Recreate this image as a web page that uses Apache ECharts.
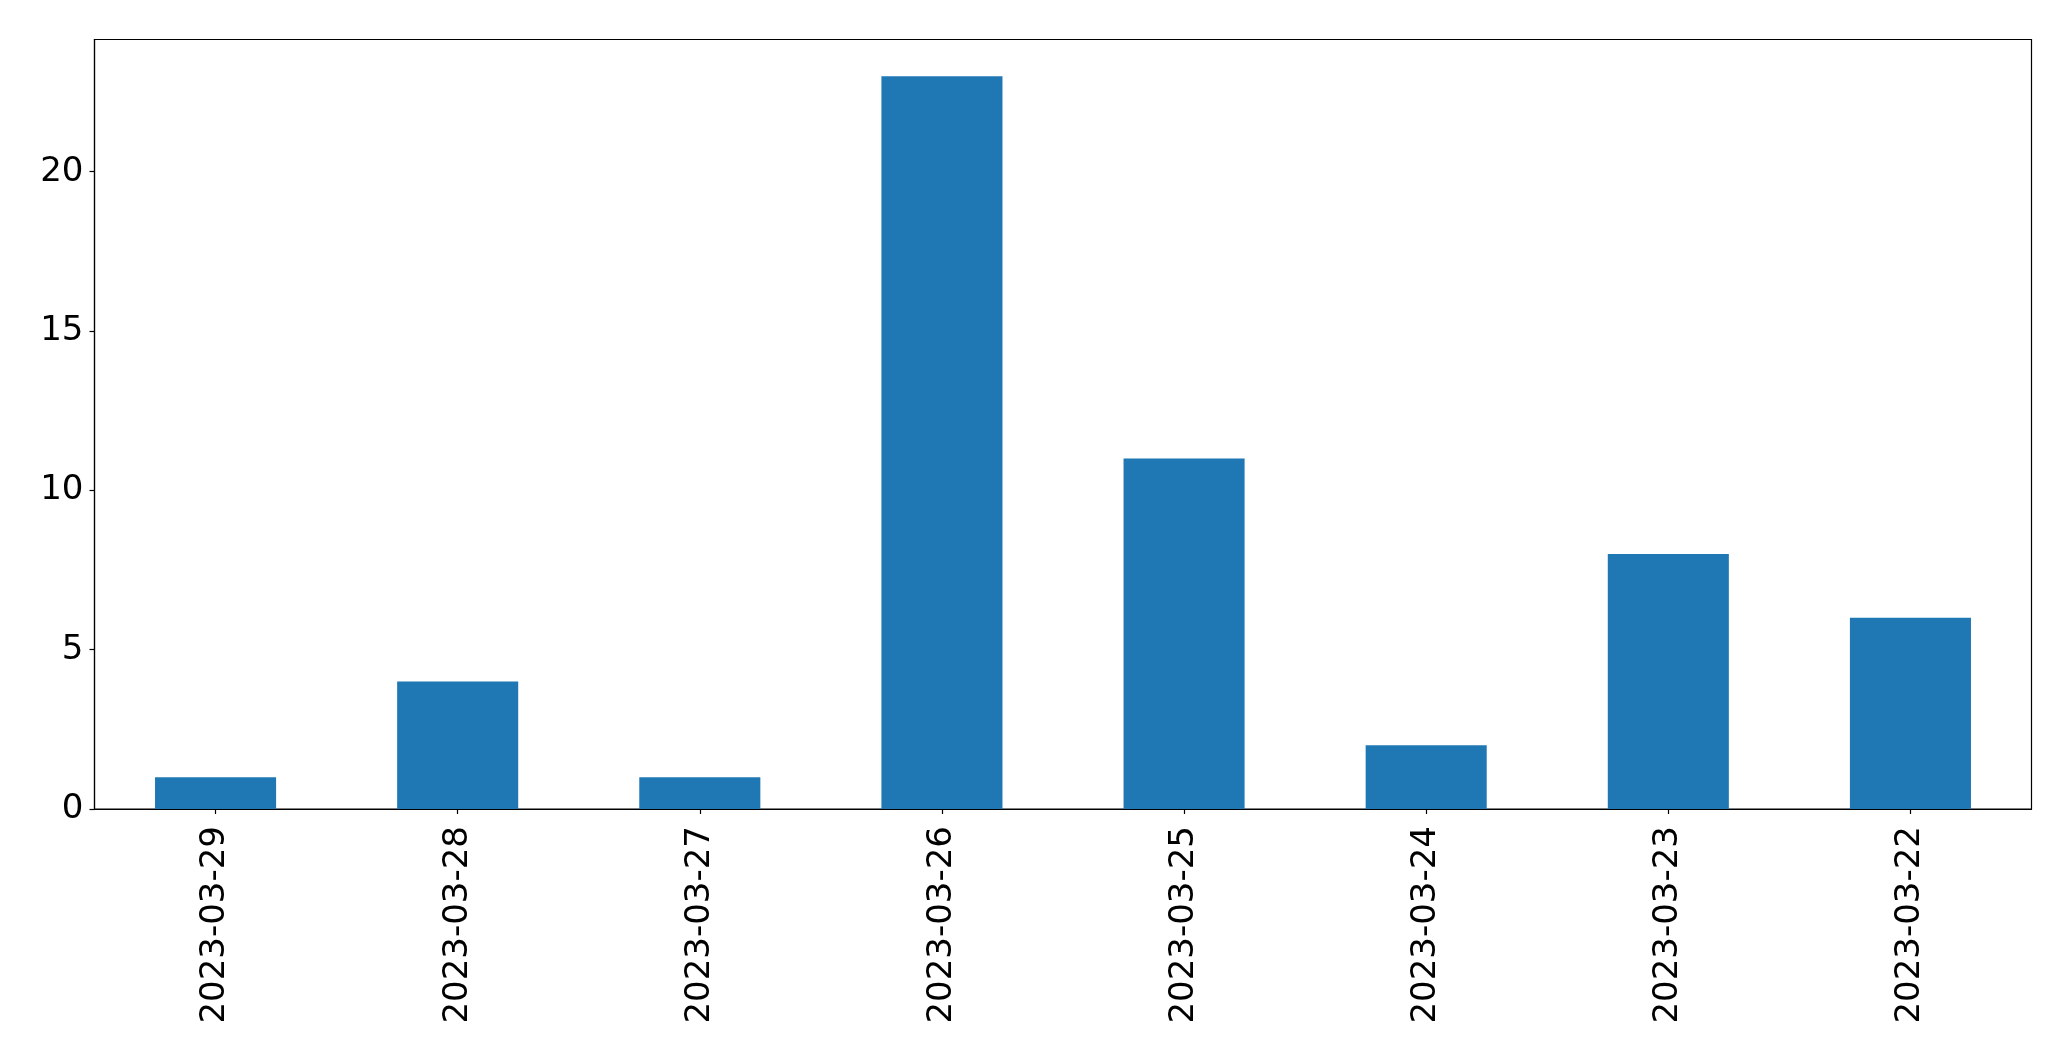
<!DOCTYPE html>
<html><head><meta charset="utf-8">
<script src="https://cdn.jsdelivr.net/npm/echarts@6/dist/echarts.min.js"></script>
<style>html,body{margin:0;padding:0;background:#fff}#c{width:2071px;height:1061px}</style>
</head><body><div id="c"></div>
<script>
const categories = ['2023-03-29','2023-03-28','2023-03-27','2023-03-26','2023-03-25','2023-03-24','2023-03-23','2023-03-22'];
const counts = [1, 4, 1, 23, 11, 2, 8, 6];
const yTicks = [0, 5, 10, 15, 20];
const chart = echarts.init(document.getElementById('c'));
chart.setOption({
  animation: false,
  grid: {left: 94.5, top: 39.5, right: 39.5, bottom: 252, show: true, borderColor: '#000', borderWidth: 1.2, backgroundColor: 'transparent'},
  xAxis: {
    type: 'category', data: categories,
    axisLine: {show: true, lineStyle: {color: '#000', width: 1.2}},
    axisTick: {show: true, alignWithLabel: true, length: 5, lineStyle: {color: '#000', width: 1.2}},
    axisLabel: {rotate: 90, color: '#000', fontFamily: 'DejaVu Sans', fontSize: 34, margin: 17, interval: 0}
  },
  yAxis: {
    type: 'value', min: 0, max: 24.15, interval: 5,
    splitLine: {show: false},
    axisLine: {show: true, lineStyle: {color: '#000', width: 1.2}},
    axisTick: {show: true, length: 5, lineStyle: {color: '#000', width: 1.2}},
    axisLabel: {color: '#000', fontFamily: 'DejaVu Sans', fontSize: 34, margin: 11, showMaxLabel: false,
      formatter: v => yTicks.includes(v) ? String(v) : ''}
  },
  series: [{type: 'bar', data: counts, barWidth: '50%', itemStyle: {color: '#1f77b4'}}]
});
</script></body></html>
